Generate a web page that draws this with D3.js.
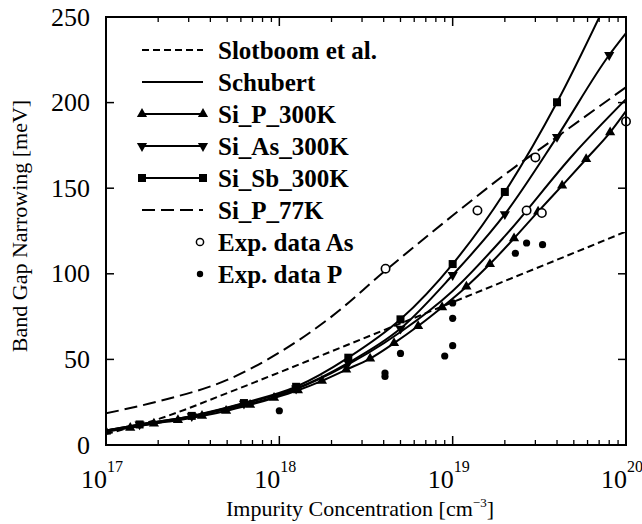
<!DOCTYPE html>
<html>
<head>
<meta charset="utf-8">
<script src="https://cdn.jsdelivr.net/npm/d3@7"></script>
<style>
  html, body { margin: 0; padding: 0; background: #fff; }
  svg { display: block; }
  text { font-family: "Liberation Serif", "Times New Roman", serif; fill: #000; }
</style>
</head>
<body>
<svg id="chart" width="642" height="524"></svg>
<script>
// ---------------- DATA ----------------
const xTickExps = [17, 18, 19, 20];
const yTickValues = [0, 50, 100, 150, 200, 250];

const slotboomN = [1e17, 2e17, 5e17, 1e18, 2e18, 5e18, 1e19, 2e19, 5e19, 1e20];
const slotboomV = [6.4, 15.1, 30.3, 42.4, 54.7, 71.0, 83.4, 95.8, 112.2, 124.7];

const schubertN = [1e17, 2e17, 5e17, 1e18, 2e18, 5e18, 1e19, 2e19, 5e19, 1e20];
const schubertV = [8.5, 13, 21, 29, 42, 66, 90, 122, 170, 202];

const siP300N = [1.00e17, 1.38e17, 1.89e17, 2.60e17, 3.58e17, 4.93e17, 6.78e17, 9.32e17,
                 1.28e18, 1.76e18, 2.43e18, 3.34e18, 4.59e18, 6.32e18, 8.69e18,
                 1.20e19, 1.64e19, 2.26e19, 3.11e19, 4.28e19, 5.89e19, 8.10e19, 1.00e20];
const siP300V = [7.8, 10, 12.5, 14.5, 17, 19.9, 23.5, 27.5,
                 32, 37.5, 44, 50.5, 59.5, 69.5, 80.5,
                 92.5, 105.7, 120.7, 136.3, 151.5, 167, 182.6, 195];

const siAs300N = [1e17, 1.5625e17, 3.125e17, 6.25e17, 1.25e18, 2.5e18, 5e18, 1e19, 2e19, 4e19, 8e19, 1e20];
const siAs300V = [8.5, 12, 16.8, 24.2, 33, 48, 68, 99.3, 134.8, 180, 227.8, 240.6];

const siSb300N = [1e17, 1.5625e17, 3.125e17, 6.25e17, 1.25e18, 2.5e18, 5e18, 1e19, 2e19, 4e19, 8e19];
const siSb300V = [8.5, 12, 17, 24.5, 34, 51, 73.4, 105.7, 147.8, 200.2, 262];

const siP77N = [1e17, 2e17, 5e17, 1e18, 2e18, 4e18, 1e19, 2e19, 4e19, 1e20];
const siP77V = [18.5, 25.5, 38, 54, 75, 101, 134, 158, 180, 209];

const expAsN = [4.1e18, 1.39e19, 2.67e19, 3.0e19, 3.27e19, 1e20];
const expAsV = [103, 137, 137, 168, 135.5, 189];

const expPN = [1e18, 4.07e18, 4.07e18, 5e18, 9e18, 1e19, 1e19, 1e19, 2.3e19, 2.67e19, 3.3e19];
const expPV = [20, 40, 42, 53.5, 52, 58, 74, 83, 112, 118, 117];

const legendLabels = ["Slotboom et al.", "Schubert", "Si_P_300K", "Si_As_300K",
                      "Si_Sb_300K", "Si_P_77K", "Exp. data As", "Exp. data P"];

// ---------------- LAYOUT ----------------
const svg = d3.select("#chart");
const L = 106, R = 626, T = 17, B = 445;
const x = d3.scaleLog().domain([1e17, 1e20]).range([L, R]);
const y = d3.scaleLinear().domain([0, 250]).range([B, T]);

svg.append("defs").append("clipPath").attr("id", "clip")
  .append("rect").attr("x", L).attr("y", T).attr("width", R - L).attr("height", B - T);

const plot = svg.append("g").attr("clip-path", "url(#clip)");

const line = d3.line().x(d => x(d[0])).y(d => y(d[1])).curve(d3.curveMonotoneX);
const zip = (a, b) => a.map((v, i) => [v, b[i]]);

const triUp = d3.symbol().type(d3.symbolTriangle).size(45);
function drawTriangle(g, px, py, down) {
  g.append("path").attr("d", triUp())
    .attr("transform", `translate(${px},${py})` + (down ? " rotate(180)" : ""))
    .attr("fill", "#000");
}
function drawSquare(g, px, py) {
  g.append("rect").attr("x", px - 4).attr("y", py - 4).attr("width", 8).attr("height", 8).attr("fill", "#000");
}

const series = [
  { N: slotboomN, V: slotboomV, dash: "7,4", marker: null },
  { N: schubertN, V: schubertV, dash: null, marker: null },
  { N: siP300N, V: siP300V, dash: null, marker: "up", from: 0, to: siP300N.length - 1 },
  { N: siAs300N, V: siAs300V, dash: null, marker: "down", from: 1, to: siAs300N.length - 1 },
  { N: siSb300N, V: siSb300V, dash: null, marker: "square", from: 1, to: siSb300N.length - 1 },
  { N: siP77N, V: siP77V, dash: "13,6", marker: null }
];

series.forEach(s => {
  plot.append("path").datum(zip(s.N, s.V)).attr("d", line)
    .attr("fill", "none").attr("stroke", "#000").attr("stroke-width", 2)
    .attr("stroke-dasharray", s.dash);
  if (s.marker) {
    const pts = zip(s.N, s.V).slice(s.from, s.to);
    pts.forEach(p => {
      const px = x(p[0]), py = y(p[1]);
      if (s.marker === "square") drawSquare(plot, px, py);
      else drawTriangle(plot, px, py, s.marker === "down");
    });
  }
});

// experimental data
zip(expAsN, expAsV).forEach(p => {
  svg.append("circle").attr("cx", x(p[0])).attr("cy", y(p[1])).attr("r", 4.2)
    .attr("fill", "#fff").attr("stroke", "#000").attr("stroke-width", 1.6);
});
zip(expPN, expPV).forEach(p => {
  svg.append("circle").attr("cx", x(p[0])).attr("cy", y(p[1])).attr("r", 3.6).attr("fill", "#000");
});

// ---------------- AXES ----------------
const axisG = svg.append("g");
axisG.append("rect").attr("x", L).attr("y", T).attr("width", R - L).attr("height", B - T)
  .attr("fill", "none").attr("stroke", "#000").attr("stroke-width", 2);

const xMinor = [];
xTickExps.slice(0, -1).forEach(e => { for (let k = 2; k <= 9; k++) xMinor.push(k * Math.pow(10, e)); });
const xMajor = xTickExps.map(e => Math.pow(10, e));
xMajor.forEach(v => {
  axisG.append("line").attr("x1", x(v)).attr("x2", x(v)).attr("y1", B).attr("y2", B - 9).attr("stroke", "#000").attr("stroke-width", 1.5);
  axisG.append("line").attr("x1", x(v)).attr("x2", x(v)).attr("y1", T).attr("y2", T + 9).attr("stroke", "#000").attr("stroke-width", 1.5);
});
xMinor.forEach(v => {
  axisG.append("line").attr("x1", x(v)).attr("x2", x(v)).attr("y1", B).attr("y2", B - 5).attr("stroke", "#000").attr("stroke-width", 1.3);
  axisG.append("line").attr("x1", x(v)).attr("x2", x(v)).attr("y1", T).attr("y2", T + 5).attr("stroke", "#000").attr("stroke-width", 1.3);
});
xTickExps.forEach(e => {
  const px = x(Math.pow(10, e));
  axisG.append("text").attr("x", px + 1).attr("y", 488).attr("text-anchor", "end")
    .attr("font-size", 26).text("10");
  axisG.append("text").attr("x", px + 1).attr("y", 472).attr("text-anchor", "start")
    .attr("font-size", 16).text(String(e));
});

yTickValues.forEach(v => {
  axisG.append("line").attr("x1", L).attr("x2", L + 8).attr("y1", y(v)).attr("y2", y(v)).attr("stroke", "#000").attr("stroke-width", 1.5);
  axisG.append("line").attr("x1", R).attr("x2", R - 8).attr("y1", y(v)).attr("y2", y(v)).attr("stroke", "#000").attr("stroke-width", 1.5);
  axisG.append("text").attr("x", 90).attr("y", y(v)).attr("text-anchor", "end")
    .attr("dominant-baseline", "central").attr("font-size", 26).text(String(v));
});

axisG.append("text").attr("transform", "translate(19,226) rotate(-90)")
  .attr("text-anchor", "middle").attr("dominant-baseline", "central")
  .attr("font-size", 22).text("Band Gap Narrowing [meV]");

const xt = axisG.append("text").attr("x", 360).attr("y", 516).attr("text-anchor", "middle").attr("font-size", 22);
xt.append("tspan").text("Impurity Concentration [cm");
xt.append("tspan").attr("dy", -9).attr("font-size", 13).text("−3");
xt.append("tspan").attr("dy", 9).text("]");

// ---------------- LEGEND ----------------
const lg = svg.append("g");
const lx1 = 142, lx2 = 203, ltx = 218;
legendLabels.forEach((lab, i) => {
  const ly = 50 + 32 * i;
  if (i < 6) {
    const s = series[i];
    lg.append("line").attr("x1", lx1).attr("x2", lx2).attr("y1", ly).attr("y2", ly)
      .attr("stroke", "#000").attr("stroke-width", 2).attr("stroke-dasharray", s.dash);
    if (s.marker) {
      [lx1, lx2].forEach(px => {
        if (s.marker === "square") drawSquare(lg, px, ly);
        else drawTriangle(lg, px, ly, s.marker === "down");
      });
    }
  } else if (i === 6) {
    lg.append("circle").attr("cx", 200).attr("cy", ly).attr("r", 3.6)
      .attr("fill", "#fff").attr("stroke", "#000").attr("stroke-width", 1.5);
  } else {
    lg.append("circle").attr("cx", 200).attr("cy", ly).attr("r", 3.2).attr("fill", "#000");
  }
  lg.append("text").attr("x", ltx).attr("y", ly).attr("dominant-baseline", "central")
    .attr("font-size", 25).attr("font-weight", "bold").text(lab);
});
</script>
</body>
</html>
